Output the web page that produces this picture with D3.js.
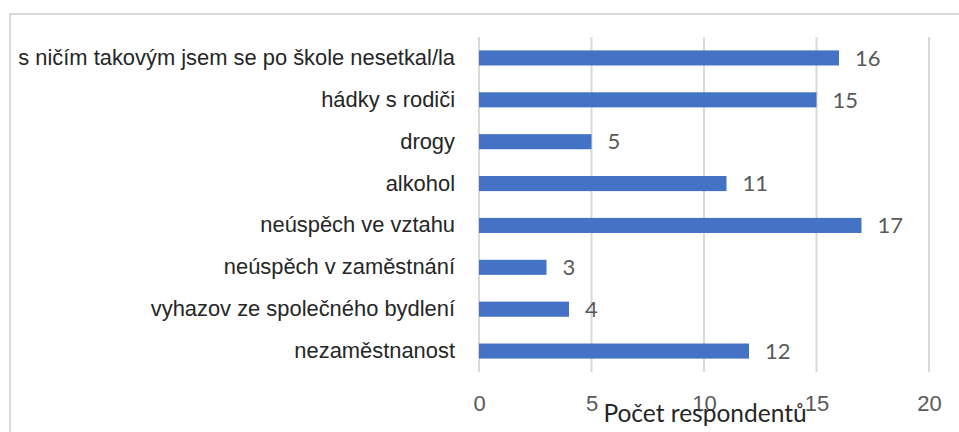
<!DOCTYPE html>
<html>
<head>
<meta charset="utf-8">
<script src="https://cdn.jsdelivr.net/npm/d3@7"></script>
<style>
  body { margin: 0; background: #fff; }
  svg { display: block; font-family: Lato, "Open Sans", sans-serif; }
</style>
</head>
<body>
<svg id="chart"></svg>
<script>
// categories from top to bottom, as in the picture
const categories = [
  "s ničím takovým jsem se po škole nesetkal/la",
  "hádky s rodiči",
  "drogy",
  "alkohol",
  "neúspěch ve vztahu",
  "neúspěch v zaměstnání",
  "vyhazov ze společného bydlení",
  "nezaměstnanost"
];
const values = [16, 15, 5, 11, 17, 3, 4, 12];
const xTicks = [0, 5, 10, 15, 20];
const xTitle = "Počet respondentů";

const width = 959, height = 432;
const plot = { left: 479, right: 929, top: 37, bottom: 372 };

const svg = d3.select("#chart")
  .attr("width", width)
  .attr("height", height);

// outer chart frame (only top and left visible in the picture)
svg.append("rect")
  .attr("x", 10).attr("y", 14)
  .attr("width", width + 20).attr("height", height + 20)
  .attr("fill", "none")
  .attr("stroke", "#d9d9d9")
  .attr("stroke-width", 2);

const x = d3.scaleLinear().domain([0, 20]).range([plot.left, plot.right]);
const y = d3.scaleBand().domain(categories).range([plot.top, plot.bottom]).paddingInner(0.64).paddingOuter(0.32);

// vertical gridlines
svg.append("g")
  .selectAll("line")
  .data(xTicks)
  .join("line")
  .attr("x1", d => x(d)).attr("x2", d => x(d))
  .attr("y1", plot.top).attr("y2", plot.bottom)
  .attr("stroke", "#d9d9d9")
  .attr("stroke-width", 2);

// bottom axis, only labels
const xAxis = svg.append("g")
  .attr("transform", "translate(0," + plot.bottom + ")")
  .call(d3.axisBottom(x).tickValues(xTicks).tickSize(0).tickPadding(23));
xAxis.select(".domain").remove();
xAxis.selectAll("text")
  .attr("fill", "#595959")
  .style("font-size", "22px");

// left axis, category names
const yAxis = svg.append("g")
  .attr("transform", "translate(" + (plot.left - 24) + ",0)")
  .call(d3.axisLeft(y).tickSize(0).tickPadding(0));
yAxis.select(".domain").remove();
yAxis.selectAll("text")
  .attr("fill", "#262626")
  .style("font-size", "21.9px");

// bars
svg.append("g")
  .selectAll("rect")
  .data(values)
  .join("rect")
  .attr("x", x(0))
  .attr("y", (d, i) => y(categories[i]))
  .attr("width", d => x(d) - x(0))
  .attr("height", y.bandwidth())
  .attr("fill", "#4472c4");

// value labels
svg.append("g")
  .selectAll("text")
  .data(values)
  .join("text")
  .attr("x", d => x(d) + 16)
  .attr("y", (d, i) => y(categories[i]) + y.bandwidth() / 2)
  .attr("dy", "0.35em")
  .attr("fill", "#595959")
  .style("font-size", "22px")
  .text(d => d);

// axis title
svg.append("text")
  .attr("x", (plot.left + plot.right) / 2 + 1)
  .attr("y", 422)
  .attr("text-anchor", "middle")
  .attr("fill", "#262626")
  .style("font-size", "24.5px")
  .text(xTitle);
</script>
</body>
</html>
